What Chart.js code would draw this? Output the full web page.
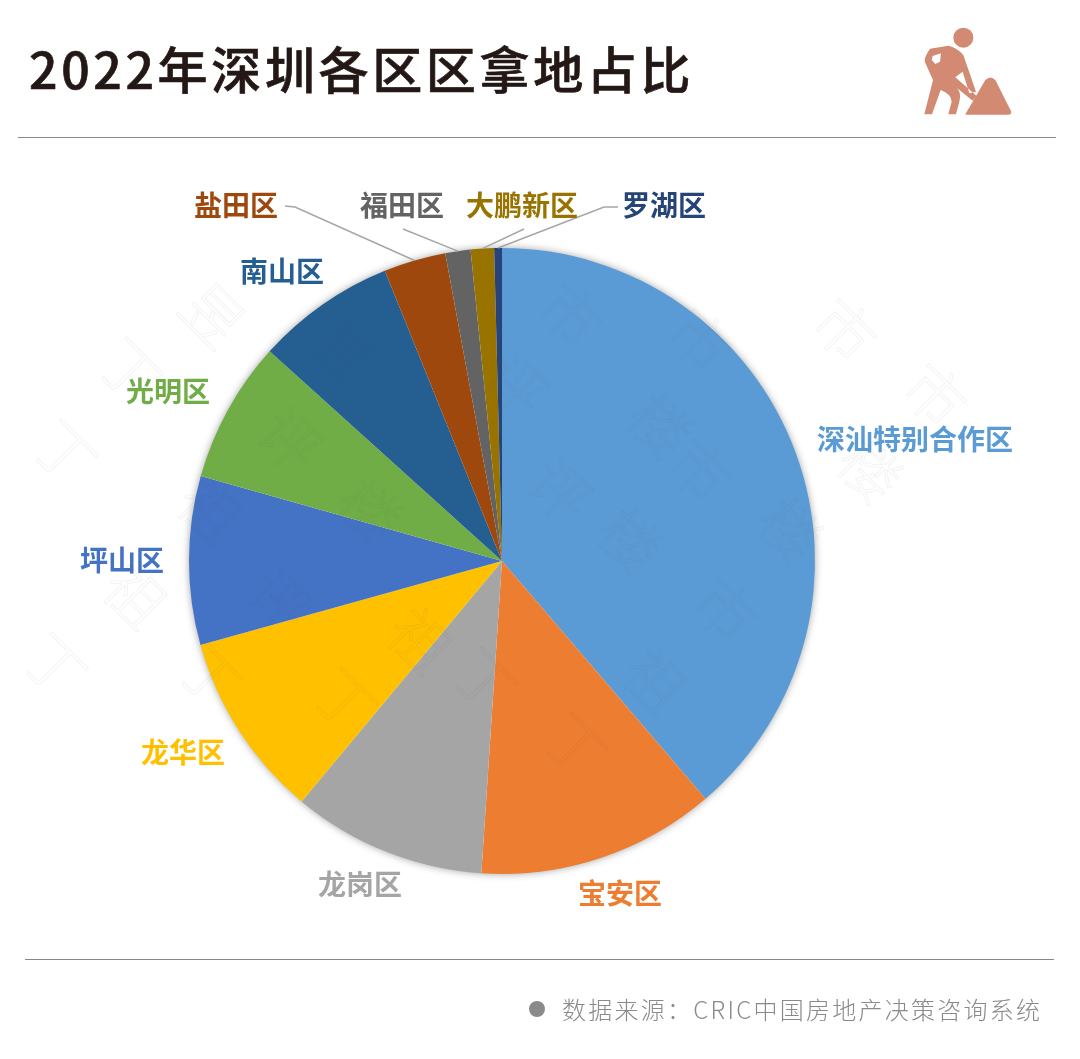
<!DOCTYPE html>
<html>
<head>
<meta charset="utf-8">
<script src="https://cdn.jsdelivr.net/npm/chart.js@4"></script>
<style>
body { margin: 0; background: #fff; width: 1080px; height: 1059px; overflow: hidden; position: relative; font-family: "Noto Sans CJK SC", sans-serif; }
#chart { position: absolute; left: 0; top: 0; }
.title { position: absolute; left: 29px; top: 31px; font-size: 50px; line-height: 72px; font-weight: 500; -webkit-text-stroke: 0.7px #231815; letter-spacing: 3.65px; color: #231815; white-space: nowrap; }
.rule { position: absolute; height: 1px; background: #888; }
.icon { position: absolute; left: 880px; top: 0; width: 200px; height: 150px; }
.dot { position: absolute; left: 529px; top: 1001px; width: 16px; height: 16px; border-radius: 50%; background: #8a8a8a; }
.source { position: absolute; left: 562px; top: 992px; font-size: 24px; line-height: 34px; font-weight: 300; letter-spacing: 2.25px; color: #8a8a8a; white-space: nowrap; }
</style>
</head>
<body>
<div class="title">2022年深圳各区区拿地占比</div>
<svg class="icon" viewBox="0 0 600 450">
  <circle cx="250" cy="113" r="30" fill="#d28a72"/>
  <path fill="#d28a72" fill-rule="evenodd" d="M150 146 L205 137 Q235 145 250 165 L288 275 L268 280 L248 215 L226 232 L290 288 L278 302 L228 262 L160 242 L135 187 Q130 175 150 146 Z M158 168 L183 160 L180 185 L166 192 L155 180 Z"/>
  <path fill="#d28a72" d="M160 236 L226 258 Q246 275 238 305 L228 343 L205 343 L215 305 Q214 282 182 270 L156 343 L133 343 Z"/>
  <path fill="#d28a72" d="M256 343 L316 240 Q332 225 346 240 L394 335 Q394 344 385 344 L262 344 Q254 344 256 343 Z"/>
</svg>
<div class="rule" style="left:18px;top:137px;width:1038px"></div>
<canvas id="chart" width="1080" height="1059"></canvas>
<div class="rule" style="left:25px;top:959px;width:1029px"></div>
<div class="dot"></div>
<div class="source">数据来源：CRIC中国房地产决策咨询系统</div>
<script>
// chart data
const districts = ["深汕特别合作区", "宝安区", "龙岗区", "龙华区", "坪山区", "光明区", "南山区", "盐田区", "福田区", "大鹏新区", "罗湖区"];
const shares = [38.7, 12.3, 10.0, 9.6, 8.7, 7.3, 7.2, 3.2, 1.3, 1.2, 0.4];
const sliceColors = ["#5b9bd5", "#ed7d31", "#a5a5a5", "#ffc000", "#4472c4", "#70ad47", "#255e91", "#9e480e", "#636363", "#997300", "#264478"];

// label centres, relative to the pie centre
const labelOffsets = [[413, -122], [118, 332], [-142, 323], [-319, 191], [-380, -1], [-334, -170], [-220, -290], [-266, -356], [-100, -356], [20, -356], [162, -356]];
// leader lines for the small slices: slice index and points relative to the pie centre
const leaders = [
    { index: 7, points: [[-217, -355], [-207, -354]] },
    { index: 8, points: [[-99, -332]] },
    { index: 9, points: [[22, -332]] },
    { index: 10, points: [[116, -354], [102, -354]] },
];

// faint watermark glyphs
const watermark = [
    ["丁", 65, 452], ["祖", 135, 595], ["丁", 55, 665], ["丁", 210, 675], ["祖", 210, 510], ["昱", 213, 315],
    ["丁", 130, 370], ["评", 290, 440], ["楼", 370, 510], ["评", 280, 600], ["丁", 345, 700], ["祖", 420, 640],
    ["丁", 485, 680], ["丁", 575, 745], ["祖", 655, 680], ["市", 725, 610], ["楼", 630, 540], ["评", 560, 490],
    ["市", 700, 470], ["楼", 660, 425], ["评", 515, 385], ["市", 570, 315], ["市", 700, 340], ["楼", 790, 530],
    ["楼", 870, 470], ["市", 845, 330], ["市", 935, 395], ["昱", 345, 350],
];

// soft shadow under the whole pie
const pieShadow = {
    id: "pieShadow",
    beforeDatasetsDraw(chart) {
        const arc = chart.getDatasetMeta(0).data[0];
        const ctx = chart.ctx;
        ctx.save();
        ctx.shadowColor = "rgba(0,0,0,0.45)";
        ctx.shadowBlur = 8;
        ctx.fillStyle = "#fff";
        ctx.beginPath();
        ctx.arc(arc.x, arc.y, arc.outerRadius - 1, 0, Math.PI * 2);
        ctx.fill();
        ctx.restore();
    },
};

// labels, leader lines and watermark
const sliceLabels = {
    id: "sliceLabels",
    afterDatasetsDraw(chart) {
        const arcs = chart.getDatasetMeta(0).data;
        const cx = arcs[0].x;
        const cy = arcs[0].y;
        const ctx = chart.ctx;
        ctx.save();

        ctx.strokeStyle = "#a6a6a6";
        ctx.lineWidth = 1.5;
        leaders.forEach((leader) => {
            const arc = arcs[leader.index];
            const mid = (arc.startAngle + arc.endAngle) / 2;
            ctx.beginPath();
            leader.points.forEach((p, i) => {
                if (i === 0) ctx.moveTo(cx + p[0], cy + p[1]);
                else ctx.lineTo(cx + p[0], cy + p[1]);
            });
            ctx.lineTo(cx + Math.cos(mid) * arc.outerRadius, cy + Math.sin(mid) * arc.outerRadius);
            ctx.stroke();
        });

        ctx.font = '700 28px "Noto Sans CJK SC"';
        ctx.textAlign = "center";
        ctx.textBaseline = "middle";
        districts.forEach((name, i) => {
            ctx.fillStyle = sliceColors[i];
            ctx.fillText(name, cx + labelOffsets[i][0], cy + labelOffsets[i][1]);
        });

        ctx.font = '300 60px "Noto Sans CJK SC"';
        ctx.strokeStyle = "rgba(90,90,90,0.07)";
        ctx.lineWidth = 1;
        watermark.forEach((w) => {
            ctx.save();
            ctx.translate(w[1], w[2]);
            ctx.rotate(Math.PI / 4);
            ctx.strokeText(w[0], 0, 0);
            ctx.restore();
        });
        ctx.restore();
    },
};

new Chart(document.getElementById("chart").getContext("2d"), {
    type: "pie",
    data: {
        labels: districts,
        datasets: [
            {
                data: shares,
                backgroundColor: sliceColors,
                borderWidth: 0,
            },
        ],
    },
    options: {
        responsive: false,
        animation: false,
        radius: 313,
        layout: {
            padding: { top: 63, right: 76 },
        },
        plugins: {
            legend: { display: false },
            tooltip: { enabled: false },
        },
    },
    plugins: [pieShadow, sliceLabels],
});
</script>
</body>
</html>
